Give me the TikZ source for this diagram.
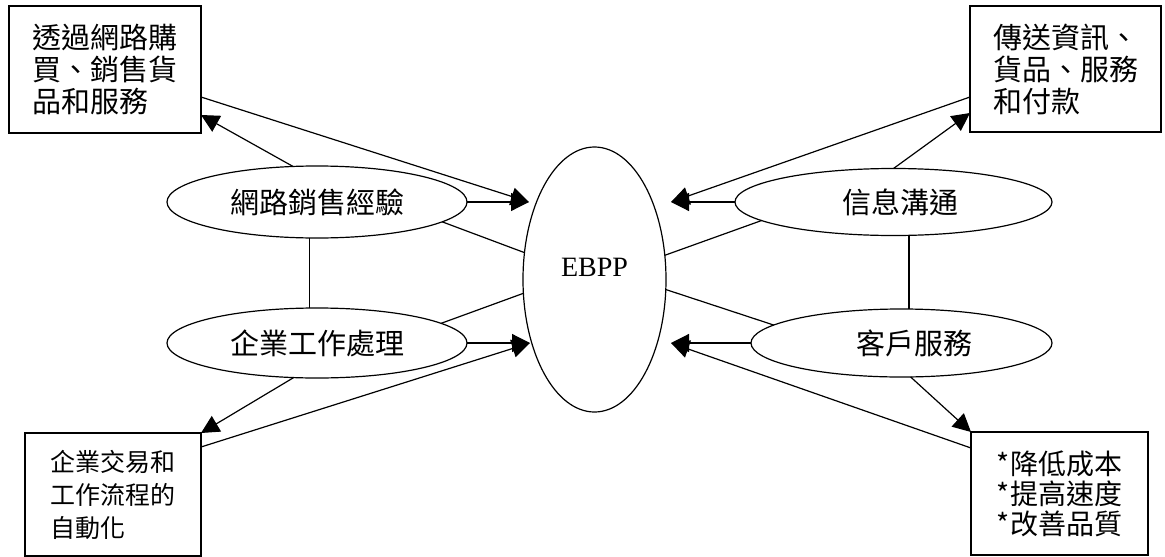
\documentclass[tikz,border=0pt]{standalone}
\usepackage{fontspec}
\setmainfont{Liberation Serif}
\newfontfamily\cjk{Noto Sans CJK TC}
\usetikzlibrary{arrows.meta,shapes.geometric}
\begin{document}
\begin{tikzpicture}[x=1pt,y=-1pt,
  line width=1.2pt,
  box/.style={draw, rectangle, inner sep=0pt, outer sep=0pt, align=left, font=\cjk\fontsize{29}{32}\selectfont},
  oval/.style={draw, ellipse, inner sep=0pt, outer sep=0pt, font=\cjk\fontsize{29}{32}\selectfont},
  arr/.style={-{Triangle[length=18pt,width=18pt]}},
]
\useasboundingbox (0,0) rectangle (1165,557);
% boxes
\node[box, minimum width=192pt, minimum height=127pt] (b1) at (105,69.5) {透過網路購\\買、銷售貨\\品和服務};
\node[box, minimum width=191pt, minimum height=126pt] (b2) at (1065.5,69) {傳送資訊、\\貨品、服務\\和付款};
\node[box, minimum width=176pt, minimum height=123pt, font=\cjk\fontsize{25}{33}\selectfont] (b3) at (113,494.5) {企業交易和\\工作流程的\\自動化};
\node[box, minimum width=177pt, minimum height=123pt, font=\cjk\fontsize{28}{30}\selectfont] (b4) at (1059.5,493.5) {*降低成本\\*提高速度\\*改善品質};
% ellipses
\node[oval, minimum width=300pt, minimum height=72pt] (e1) at (317,202) {網路銷售經驗};
\node[oval, minimum width=300pt, minimum height=70pt] (e2) at (317,343) {企業工作處理};
\node[oval, minimum width=317pt, minimum height=67pt] (e3) at (893.5,202) {\hspace{13pt}信息溝通};
\node[oval, minimum width=301pt, minimum height=68pt] (e4) at (901.5,343) {\hspace{25pt}客戶服務};
\node[draw, ellipse, inner sep=0pt, outer sep=0pt, minimum width=143pt, minimum height=265pt, font=\fontsize{28}{30}\selectfont, text depth=24pt] (ebpp) at (594.5,279.5) {EBPP};
% arrow tips
\coordinate (tL1) at (529,202);
\coordinate (tL2) at (530,343);
\coordinate (tR1) at (671,202);
\coordinate (tR2) at (671,343);
% left side
\draw[arr] (e1.east) -- (tL1);
\draw[arr] ([yshift=36pt]b1.south east) -- (tL1);
\draw[arr] (e1.124) -- ([yshift=18pt]b1.south east);
\draw (e1.-9) -- (ebpp.159);
\draw (ebpp.191) -- (e2.9);
\draw[arr] (e2.east) -- (tL2);
\draw[arr] ([yshift=-14pt]b3.north east) -- (tL2);
\draw[arr] (e2.236) -- (b3.north east);
\draw (e1.-102) -- (e1.-102 |- e2.north);
% right side
\draw[arr] (e3.west) -- (tR1);
\draw[arr] ([yshift=35pt]b2.south west) -- (tR1);
\draw[arr] (e3.90) -- ([yshift=19pt]b2.south west);
\draw (e3.188) -- (ebpp.19);
\draw (ebpp.-8) -- (e4.172);
\draw[arr] (e4.west) -- (tR2);
\draw[arr] ([yshift=-16pt]b4.north west) -- (tR2);
\draw[arr] (e4.-75) -- (b4.north west);
\draw ([xshift=15.5pt]e3.south) -- ([xshift=7.5pt]e4.north);
\end{tikzpicture}
\end{document}
